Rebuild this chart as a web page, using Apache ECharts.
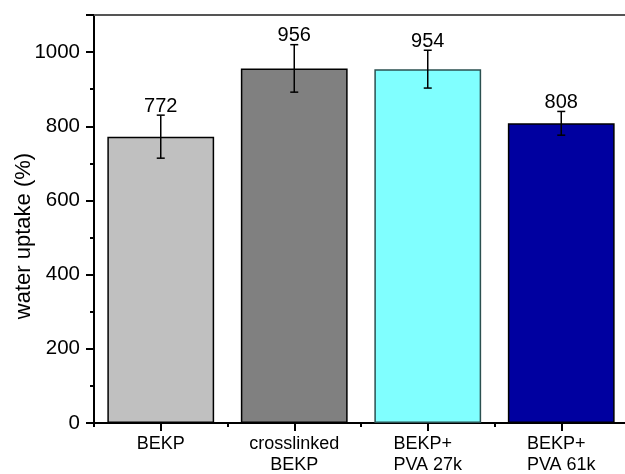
<!DOCTYPE html>
<html>
<head>
<meta charset="utf-8">
<title>Water uptake</title>
<script src="https://cdn.jsdelivr.net/npm/echarts@6/dist/echarts.min.js"></script>
<style>
  html, body { margin: 0; padding: 0; background: #fff; }
  #chart { width: 625px; height: 474px; }
</style>
</head>
<body>
<div id="chart"></div>
<script>
// Sample groups shown along the x axis
const categories = ['BEKP', 'crosslinked\nBEKP', 'BEKP+  \nPVA 27k', 'BEKP+  \nPVA 61k'];
// Mean water uptake (%) for each group
const uptake = [772, 956, 954, 808];
// Standard deviation for each group
const uptakeErr = [58, 64, 51, 32];
// Labelled ticks on the y axis
const yTickLabels = [0, 200, 400, 600, 800, 1000];

const fillColors = ['#c0c0c0', '#808080', '#80ffff', '#0000a0'];
const edgeColors = ['#000000', '#000000', '#2b5050', '#000000'];
const FONT = 'Liberation Sans, Arial, sans-serif';

const chart = echarts.init(document.getElementById('chart'), null, { renderer: 'canvas' });

const grid = {
  left: 94, top: 15, width: 534, height: 408,
  containLabel: false,
  outerBoundsMode: 'none'
};

const option = {
  animation: false,
  backgroundColor: '#ffffff',
  grid: grid,
  xAxis: [
    {
      // main category axis: labels and centre ticks
      type: 'category',
      data: categories,
      position: 'bottom',
      axisLine: { show: true, onZero: false, lineStyle: { color: '#000', width: 2 } },
      axisTick: { show: true, alignWithLabel: true, length: 8, lineStyle: { color: '#000', width: 2 } },
      axisLabel: {
        show: true, interval: 0, margin: 11, color: '#000',
        fontSize: 18, lineHeight: 21, fontFamily: FONT
      },
      splitLine: { show: false }
    },
    {
      // short ticks on the boundaries between groups
      type: 'category',
      data: categories,
      position: 'bottom',
      axisLine: { show: false, onZero: false },
      axisTick: { show: true, alignWithLabel: false, length: 4, lineStyle: { color: '#000', width: 2 } },
      axisLabel: { show: false },
      splitLine: { show: false }
    },
    {
      // frame line along the top
      type: 'category',
      data: categories,
      position: 'top',
      axisLine: { show: true, onZero: false, lineStyle: { color: '#555', width: 2 } },
      axisTick: { show: false },
      axisLabel: { show: false },
      splitLine: { show: false }
    }
  ],
  yAxis: [
    {
      type: 'value',
      min: 0,
      max: 1100,
      interval: 200,
      position: 'left',
      name: 'water uptake (%)',
      nameLocation: 'middle',
      nameGap: 59,
      nameMoveOverlap: false,
      nameTextStyle: { color: '#000', fontSize: 22, fontFamily: FONT, padding: [0, 34, 0, 0] },
      axisLine: { show: true, onZero: false, lineStyle: { color: '#000', width: 2 } },
      axisTick: { show: true, length: 8, lineStyle: { color: '#000', width: 2 } },
      axisLabel: {
        show: true, margin: 14, color: '#000', fontSize: 20.5, fontFamily: FONT,
        formatter: function (v) { return yTickLabels.indexOf(v) >= 0 ? String(v) : ''; }
      },
      splitLine: { show: false }
    },
    {
      // intermediate short ticks every 100
      type: 'value',
      min: 0,
      max: 1100,
      interval: 100,
      position: 'left',
      axisLine: { show: false, onZero: false },
      axisTick: { show: true, length: 4, lineStyle: { color: '#000', width: 2 } },
      axisLabel: { show: false },
      splitLine: { show: false }
    }
  ],
  series: [
    {
      type: 'bar',
      xAxisIndex: 0,
      yAxisIndex: 0,
      barCategoryGap: '20%',
      data: uptake.map(function (v, i) {
        return {
          value: v,
          itemStyle: { color: fillColors[i], borderColor: edgeColors[i], borderWidth: 1.5 }
        };
      }),
      z: 2
    },
    {
      // error bars with the mean written above each one
      type: 'custom',
      xAxisIndex: 0,
      yAxisIndex: 0,
      z: 5,
      data: uptake.map(function (v, i) { return [i, v, uptakeErr[i]]; }),
      renderItem: function (params, api) {
        const i = api.value(0);
        const v = api.value(1);
        const e = api.value(2);
        const hi = api.coord([i, v + e]);
        const lo = api.coord([i, v - e]);
        const hw = 4;
        const ls = { stroke: '#000', lineWidth: 1.5 };
        return {
          type: 'group',
          children: [
            { type: 'line', shape: { x1: hi[0], y1: hi[1], x2: lo[0], y2: lo[1] }, style: ls },
            { type: 'line', shape: { x1: hi[0] - hw, y1: hi[1], x2: hi[0] + hw, y2: hi[1] }, style: ls },
            { type: 'line', shape: { x1: lo[0] - hw, y1: lo[1], x2: lo[0] + hw, y2: lo[1] }, style: ls },
            {
              type: 'text',
              x: hi[0],
              y: hi[1] + 1,
              style: {
                text: String(v),
                align: 'center',
                verticalAlign: 'bottom',
                fontSize: 20,
                fontFamily: FONT,
                fill: '#000'
              }
            }
          ]
        };
      }
    }
  ]
};

chart.setOption(option);
</script>
</body>
</html>
